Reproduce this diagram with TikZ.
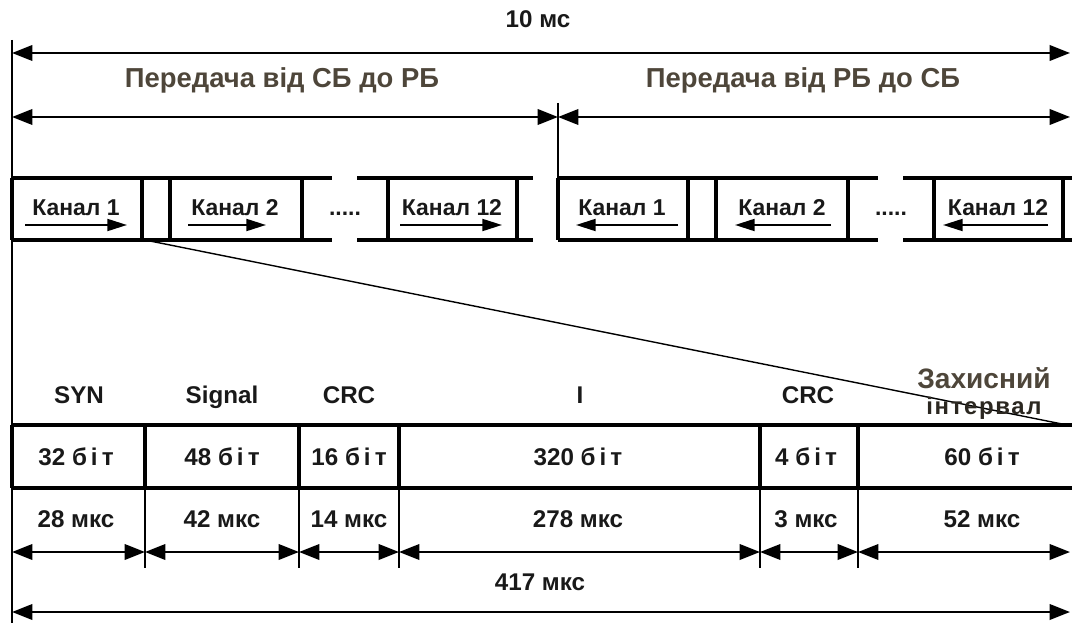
\documentclass[tikz,border=0pt]{standalone}
\usepackage{fontspec}
\setmainfont{Liberation Sans}
\usetikzlibrary{arrows.meta, positioning, calc}
\definecolor{titlegray}{RGB}{78,70,58}

\begin{document}
\begin{tikzpicture}[x=0.025cm, y=-0.025cm,
          title/.style={font=\fontsize{19.5}{22}\selectfont\bfseries, text=titlegray, anchor=base},
          lbl/.style={font=\fontsize{17.2}{19}\selectfont\bfseries, text=black!90, anchor=base},
          chan/.style={font=\fontsize{16.3}{18}\selectfont\bfseries, text=black!90, anchor=base},
          dim/.style={{Triangle[length=14.5pt,width=11pt]}-{Triangle[length=14.5pt,width=11pt]}, line width=1.6pt},
          rowline/.style={line width=2.6pt},
          tick/.style={line width=1.2pt},
          dir/.style={-{Triangle[length=14pt,width=8.5pt]}, line width=1.5pt}]

        \useasboundingbox (0,0) rectangle (1072,623);

        % overall frame and the two halves
        \node [lbl] (total) at (538,28) {10 мс};
        \coordinate (tl) at (12,53);
        \coordinate (tr) at (1070,53);
        \coordinate (ml) at (12,117);
        \coordinate (mm) at (558,117);
        \coordinate (mr) at (1070,117);
        \draw [line width=1.6pt] (12,40) -- (12,623);
        \draw [line width=1.6pt] (558,103) -- (558,178);
        \draw [dim] (tl) -- (tr);
        \draw [dim] (ml) -- (mm);
        \draw [dim] (mm) -- (mr);
        \node [title] (down) at (282,88) {Передача від СБ до РБ};
        \node [title] (up) at (803,88) {Передача від РБ до СБ};

        % channel rows
        \foreach \o in {0,546} {
          \draw [rowline] (12+\o,178) -- (332+\o,178);
          \draw [rowline] (357+\o,178) -- (533+\o,178);
          \draw [rowline] (12+\o,240) -- (332+\o,240);
          \draw [rowline] (357+\o,240) -- (533+\o,240);
          \foreach \x in {12,142,170,302,388,517}
            \draw [rowline] (\x+\o,178) -- (\x+\o,240);
          \node [chan] at (345+\o,216) {.....};
        }
        \node [chan] (a1) at (76,216) {Канал 1};
        \node [chan] (a2) at (235,216) {Канал 2};
        \node [chan] (a12) at (452,216) {Канал 12};
        \node [chan] (b1) at (622,216) {Канал 1};
        \node [chan] (b2) at (782,216) {Канал 2};
        \node [chan] (b12) at (998,216) {Канал 12};
        \draw [dir] (25,225) -- (127,225);
        \draw [dir] (188,225) -- (266,225);
        \draw [dir] (400,225) -- (502,225);
        \draw [dir] (678,225) -- (576,225);
        \draw [dir] (831,225) -- (735,225);
        \draw [dir] (1048,225) -- (943,225);

        % zoom onto one time slot
        \draw [line width=1pt] (150,241) -- (1072,426);

        \node [lbl] (syn) at (79,403) {SYN};
        \node [lbl] (sig) at (222,403) {Signal};
        \node [lbl] (crc1) at (349,403) {CRC};
        \node [lbl] (inf) at (580,403) {I};
        \node [lbl] (crc2) at (808,403) {CRC};
        \node [title, font=\fontsize{20}{22}\selectfont\bfseries] (guard) at (984,388) {Захисний};
        \node [title, font=\fontsize{17}{19}\selectfont\bfseries\addfontfeatures{LetterSpace=7}, text=titlegray!55!black] (guard2) at (984,414) {інтервал};

        \draw [rowline] (12,425) -- (1072,425);
        \draw [rowline] (12,488) -- (1072,488);
        \foreach \x in {12,145,299,399,760,858}
          \draw [rowline] (\x,425) -- (\x,488);
        \foreach \x in {145,299,399,760,858}
          \draw [tick] (\x,488) -- (\x,568);

        \foreach \x/\b/\t in {76/32/28, 222/48/42, 349/16/14, 578/320/278, 806/4/3, 982/60/52} {
          \node [lbl] at (\x,465) {\b\ б\,і\,т};
          \node [lbl] at (\x,527) {\t\ мкс};
        }

        \foreach \i/\x in {0/12,1/145,2/299,3/399,4/760,5/858,6/1070}
          \coordinate (s\i) at (\x,552);
        \foreach \i [evaluate=\i as \j using int(\i+1)] in {0,...,5}
          \draw [dim] (s\i) -- (s\j);

        \node [lbl] (slot) at (540,590) {417 мкс};
        \coordinate (bl) at (12,612);
        \coordinate (br) at (1070,612);
        \draw [dim] (bl) -- (br);
      \end{tikzpicture}
\end{document}
